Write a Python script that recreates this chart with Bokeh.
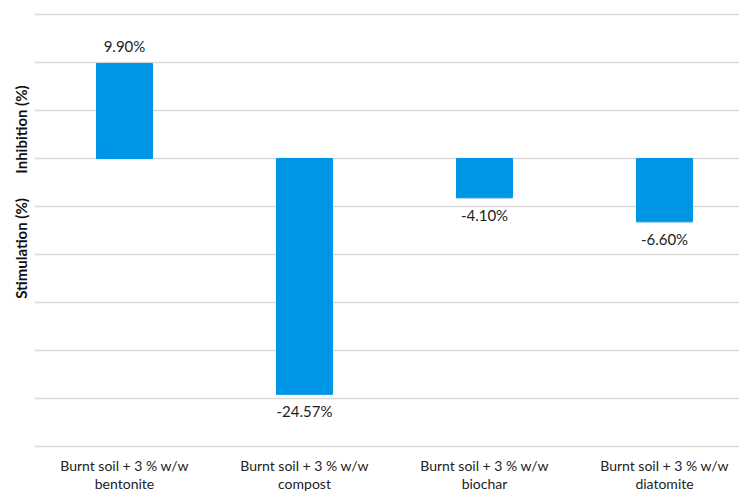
import math
from bokeh.plotting import figure
from bokeh.models import ColumnDataSource, LabelSet, Label, Range1d
from bokeh.core.properties import value
from bokeh.embed import file_html
from bokeh.resources import INLINE

categories = ["bentonite", "compost", "biochar", "diatomite"]
values = [9.90, -24.57, -4.10, -6.60]
value_labels = ["9.90%", "-24.57%", "-4.10%", "-6.60%"]
line1 = ["Burnt soil + 3 % w/w"] * 4
line2 = categories
y_ticks = [-30, -25, -20, -15, -10, -5, 0, 5, 10, 15]

FONT = "Lato"
BAR = "#0096E6"
GRID = "#D9D9D9"

W, H = 739, 493
PX_X = 180.0          # pixels per category
X0_PX = 124.0         # pixel centre of first category
PX_Y = 432 / 45.0     # pixels per percent
Y0_PX = 158.0         # pixel row of zero

x_start = -X0_PX / PX_X
x_end = x_start + W / PX_X
y_top = Y0_PX / PX_Y
y_bot = -(H - Y0_PX) / PX_Y

xs = list(range(len(categories)))
src = ColumnDataSource(dict(
    x=xs, top=values, lab=value_labels, l1=line1, l2=line2,
    ylab=list(values),
    off=[17 if v >= 0 else -17 for v in values],
    base=[y_ticks[0]] * len(categories),
))
grid_src = ColumnDataSource(dict(
    y=y_ticks, x0=[-0.5] * len(y_ticks), x1=[x_end] * len(y_ticks)))

p = figure(width=W, height=H, output_backend="svg", toolbar_location=None,
           x_range=Range1d(x_start, x_end), y_range=Range1d(y_bot, y_top),
           min_border=0)
p.outline_line_color = None
p.background_fill_color = "white"
p.border_fill_color = "white"
p.axis.visible = False
p.grid.visible = False

p.segment(x0="x0", x1="x1", y0="y", y1="y", source=grid_src,
          line_color=GRID, line_width=1.5)
p.vbar(x="x", top="top", bottom=0, width=0.311, source=src,
       fill_color=BAR, line_color=BAR)

txt = dict(text_align="center", text_baseline="middle", text_font=value(FONT))
p.add_layout(LabelSet(x="x", y="ylab", text="lab", source=src, y_offset="off",
                      text_font_size="15px", text_color="#222222", **txt))
p.add_layout(LabelSet(x="x", y="base", text="l1", source=src, y_offset=-19,
                      text_font_size="14px", text_color="#222222", **txt))
p.add_layout(LabelSet(x="x", y="base", text="l2", source=src, y_offset=-37,
                      text_font_size="14px", text_color="#222222", **txt))

xlab = -0.5 - 14 / PX_X
ltxt = dict(text_align="center", text_baseline="middle", text_font=FONT)
p.add_layout(Label(x=xlab, y=(Y0_PX - 129) / PX_Y, text="Inhibition (%)", angle=math.pi / 2,
                   text_font_size="15px", text_font_style="bold", text_color="#111111", **ltxt))
p.add_layout(Label(x=xlab, y=(Y0_PX - 248) / PX_Y, text="Stimulation (%)", angle=math.pi / 2,
                   text_font_size="15px", text_font_style="bold", text_color="#111111", **ltxt))

open("out.html", "w").write(file_html(p, INLINE))
